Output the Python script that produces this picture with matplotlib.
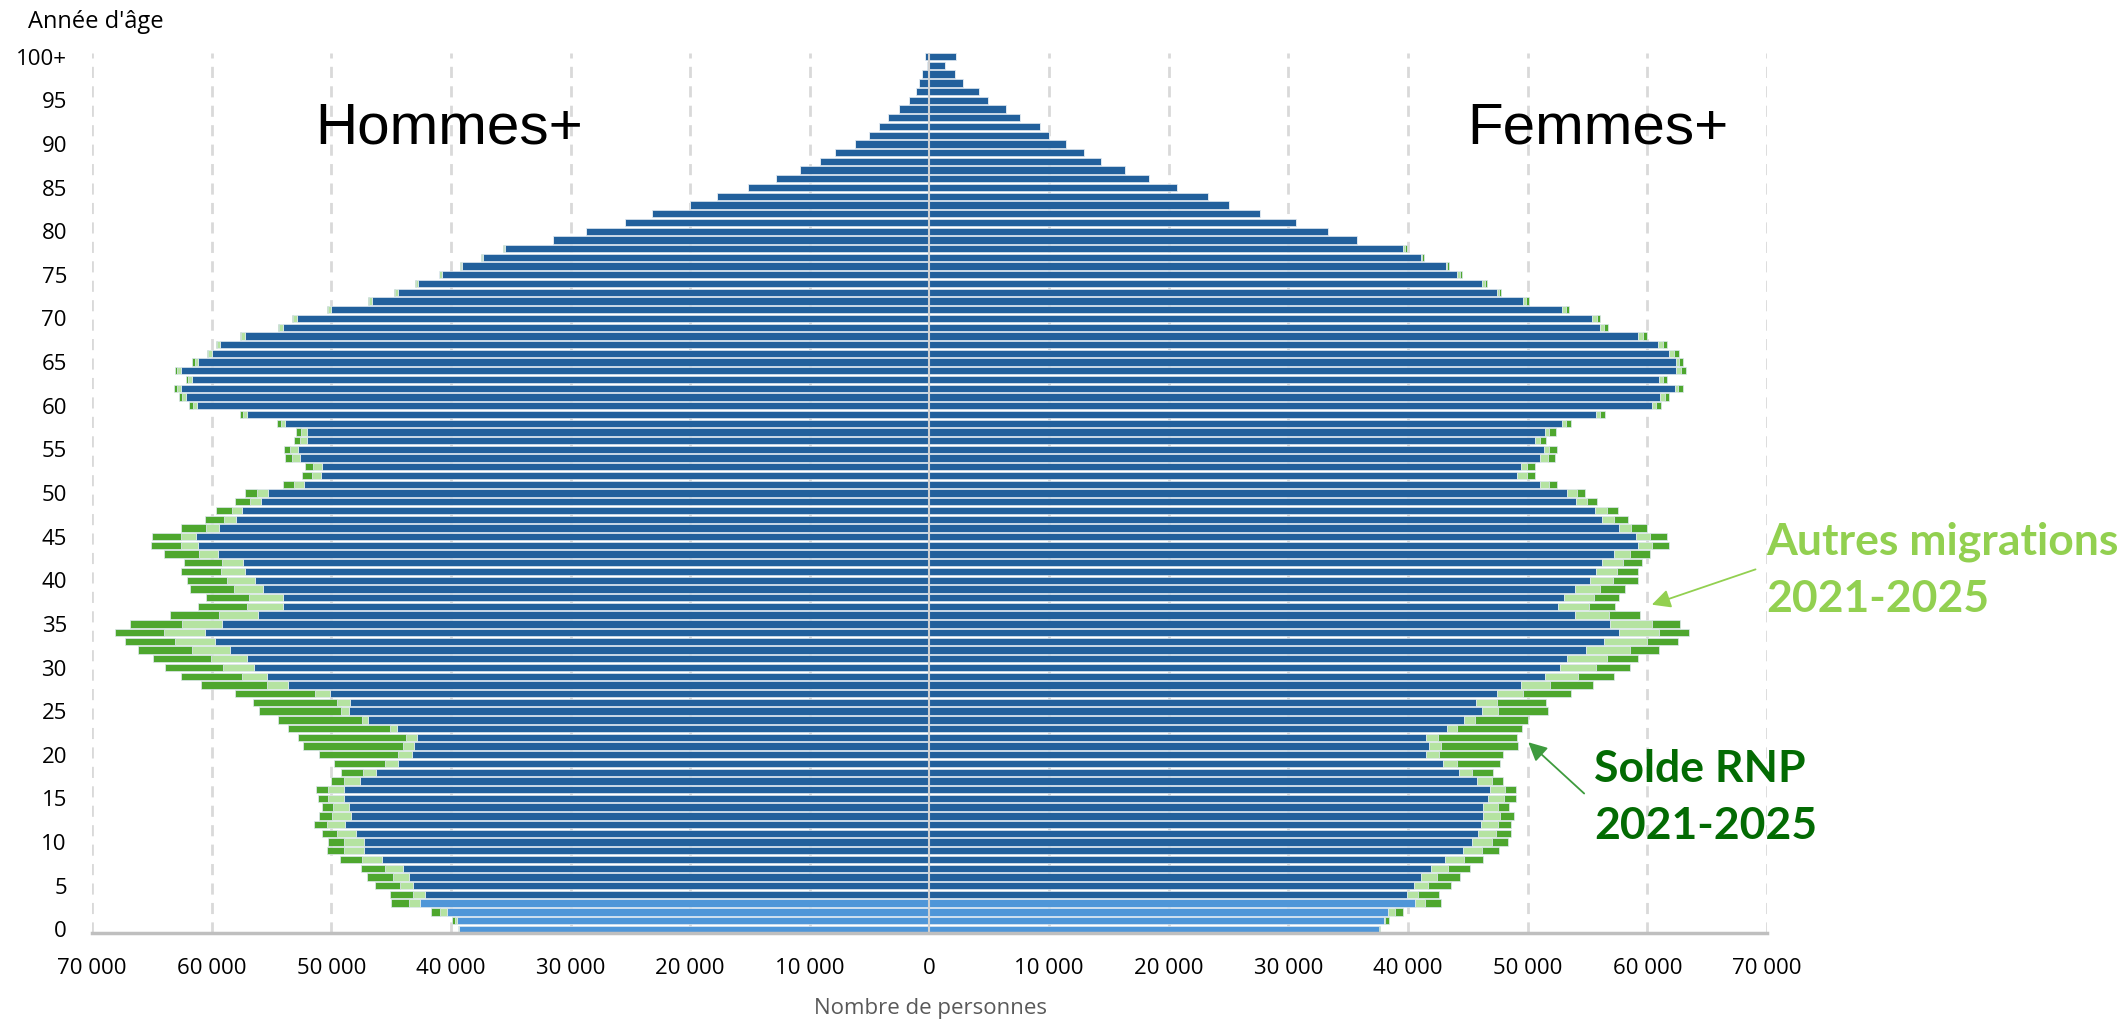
# libraries
import numpy as np
import matplotlib.pyplot as plt

# age 0 .. 100+ (last one is 100+)
ages = np.arange(101)

# hommes : population de base (bleu)
hommes_base = [39335, 39518, 40338, 42572, 42162, 43164, 43483, 44030, 45762, 47266,
               47266, 47905, 48862, 48315, 48543, 48907, 48953, 47631, 46218, 44395,
               43255, 43073, 42800, 44486, 46902, 48543, 48406, 50092, 53602, 55334,
               56474, 57066, 58479, 59710, 60576, 59163, 56155, 54058, 54012, 55699,
               56383, 57203, 57340, 59436, 61123, 61305, 59345, 57978, 57431, 55881,
               55289, 52235, 50822, 50776, 52599, 52782, 52052, 52052, 53830, 57021,
               61214, 62125, 62581, 61624, 62581, 61123, 59983, 59254, 57248, 54058,
               52873, 50047, 46583, 44441, 42754, 40749, 39108, 37284, 35461, 31450,
               28715, 25479, 23155, 20010, 17776, 15178, 12808, 10802, 9162, 7885,
               6244, 5014, 4239, 3464, 2507, 1732, 1140, 866, 638, 228, 365]
# hommes : autres migrations 2021-2025 (vert clair)
hommes_autres = [46, 137, 593, 957, 1003, 1048, 1367, 1504, 1686, 1641,
                 1641, 1641, 1459, 1595, 1276, 1322, 1322, 1276, 1140, 1094,
                 1140, 912, 912, 593, 501, 638, 1140, 1276, 1778, 2142,
                 2552, 3008, 3191, 3373, 3373, 3327, 3191, 3008, 2826, 2416,
                 2325, 2006, 1778, 1641, 1413, 1276, 1140, 957, 866, 912,
                 912, 866, 775, 775, 684, 638, 593, 501, 365, 319,
                 365, 319, 273, 319, 273, 273, 319, 273, 273, 319,
                 319, 228, 273, 228, 182, 228, 46, 137, 137, 0,
                 0, 0, 0, 0, 0, 0, 0, 0, 0, 0,
                 0, 0, 0, 0, 0, 0, 0, 0, 0, 0, 0]
# hommes : solde RNP 2021-2025 (vert fonce)
hommes_rnp = [46, 273, 729, 1504, 1914, 2097, 2142, 1960, 1823, 1459,
              1367, 1231, 1140, 1140, 957, 912, 957, 1140, 1823, 4285,
              6655, 8341, 9070, 8523, 7065, 6883, 7019, 6700, 5470, 5059,
              4877, 4831, 4512, 4193, 4148, 4330, 4102, 4057, 3646, 3692,
              3373, 3327, 3145, 2872, 2552, 2416, 2097, 1641, 1367, 1231,
              1003, 912, 820, 638, 593, 501, 456, 410, 319, 319,
              319, 273, 273, 182, 228, 228, 91, 91, 91, 91,
              91, 91, 91, 46, 46, 46, 91, 46, 46, 0,
              0, 0, 0, 0, 0, 0, 0, 0, 0, 0,
              0, 0, 0, 0, 0, 0, 0, 0, 0, 0, 0]

# femmes
femmes_base = [37554, 37966, 38332, 40575, 39889, 40483, 41078, 41902, 43092, 44557,
               45335, 45884, 46068, 46296, 46296, 46708, 46846, 45793, 44237, 42955,
               41490, 41720, 41536, 43230, 44649, 46159, 45701, 47395, 49409, 51468,
               52658, 53299, 54901, 56412, 57602, 56915, 53940, 52567, 53070, 53940,
               55222, 55679, 56229, 57236, 59249, 59021, 57602, 56229, 55633, 54031,
               53299, 51057, 49134, 49409, 51057, 51331, 50645, 51423, 52841, 55679,
               60394, 61080, 62270, 60988, 62407, 62362, 61812, 60897, 59249, 56000,
               55404, 52841, 49638, 47395, 46205, 44054, 43139, 41078, 39614, 35723,
               33343, 30597, 27622, 25013, 23274, 20711, 18331, 16363, 14349, 12884,
               11374, 9955, 9223, 7529, 6431, 4920, 4142, 2815, 2128, 1259, 2220]
femmes_autres = [46, 137, 549, 870, 915, 1190, 1327, 1419, 1602, 1648,
                 1648, 1465, 1465, 1419, 1236, 1327, 1236, 1190, 1098, 1098,
                 1098, 1007, 961, 824, 961, 1373, 1693, 2243, 2472, 2746,
                 3021, 3341, 3616, 3570, 3341, 3433, 2838, 2563, 2472, 2105,
                 1922, 1785, 1693, 1327, 1098, 1190, 1053, 1007, 961, 915,
                 824, 732, 824, 549, 595, 458, 412, 366, 320, 320,
                 320, 366, 320, 320, 366, 275, 412, 412, 412, 366,
                 366, 320, 229, 183, 229, 275, 137, 120, 140, 0,
                 0, 0, 0, 0, 0, 0, 0, 0, 0, 0,
                 0, 0, 0, 0, 0, 0, 0, 0, 0, 0, 0]
femmes_rnp = [46, 275, 687, 1282, 1785, 1877, 1968, 1877, 1602, 1419,
              1327, 1236, 1098, 1098, 870, 961, 961, 915, 1739, 3616,
              5355, 6454, 6637, 5447, 4394, 4165, 4119, 3982, 3570, 2975,
              2838, 2563, 2426, 2563, 2517, 2380, 2563, 2151, 2105, 2060,
              2060, 1739, 1648, 1693, 1465, 1419, 1327, 1144, 961, 870,
              687, 641, 687, 687, 595, 687, 503, 549, 458, 458,
              412, 366, 366, 320, 412, 366, 412, 320, 320, 320,
              275, 275, 229, 183, 183, 137, 137, 110, 135, 0,
              0, 0, 0, 0, 0, 0, 0, 0, 0, 0,
              0, 0, 0, 0, 0, 0, 0, 0, 0, 0, 0]

hb = np.array(hommes_base)
ha = np.array(hommes_autres)
hr = np.array(hommes_rnp)
fb = np.array(femmes_base)
fa = np.array(femmes_autres)
fr = np.array(femmes_rnp)

# colours
dark_blue = '#22609c'
light_blue = '#4f96d8'
light_green = '#b5e3a1'
dark_green = '#4ea72e'
blue_cols = [light_blue if a <= 3 else dark_blue for a in ages]

plt.rcParams['font.family'] = ['Open Sans', 'DejaVu Sans']

fig = plt.figure(figsize=(21.18, 10.21), dpi=100)
ax = fig.add_axes([0.0434, 0.0862, 0.7909, 0.8619])

h = 0.84
edge = dict(edgecolor='#dfe8f0', linewidth=0.5)

# hommes (left, negative)
ax.barh(ages, -hb, height=h, color=blue_cols, zorder=2, **edge)
ax.barh(ages, -ha, left=-hb, height=h, color=light_green, zorder=2, **edge)
ax.barh(ages, -hr, left=-(hb + ha), height=h, color=dark_green, zorder=2, **edge)

# femmes (right)
ax.barh(ages, fb, height=h, color=blue_cols, zorder=2, **edge)
ax.barh(ages, fa, left=fb, height=h, color=light_green, zorder=2, **edge)
ax.barh(ages, fr, left=fb + fa, height=h, color=dark_green, zorder=2, **edge)

# grid
for v in range(-70000, 70001, 10000):
    if v == 0:
        continue
    ax.axvline(v, color='#d9d9d9', lw=2, linestyle=(0, (4, 3)), zorder=1)
ax.axvline(0, color='#d0d0d0', lw=1.5, zorder=3)

ax.set_xlim(-70000, 70000)
ax.set_ylim(-0.42, 100.42)

xt = list(range(-70000, 70001, 10000))
ax.set_xticks(xt)
ax.set_xticklabels(['{:,}'.format(abs(v)).replace(',', ' ') for v in xt], fontsize=16)
yt = list(range(0, 101, 5))
ax.set_yticks(yt)
ax.set_yticklabels([str(a) if a < 100 else '100+' for a in yt], fontsize=16)
ax.tick_params(axis='both', length=0)
ax.tick_params(axis='x', pad=18)
ax.tick_params(axis='y', pad=18)

for s in ['top', 'right', 'left']:
    ax.spines[s].set_visible(False)
ax.spines['bottom'].set_color('#bfbfbf')
ax.spines['bottom'].set_linewidth(2.5)
ax.spines['bottom'].set_zorder(4)

# titles on each side
ax.text(-51300, 90.1, 'Hommes+', fontsize=42, family=['Liberation Sans', 'DejaVu Sans'],
        ha='left', va='baseline')
ax.text(44950, 90.1, 'Femmes+', fontsize=42, family=['Liberation Sans', 'DejaVu Sans'],
        ha='left', va='baseline')

# annotations
c_autres = '#92d050'
c_rnp = '#036b03'
lato = ['Lato', 'DejaVu Sans']
ax.text(69900, 42.96, 'Autres migrations', color=c_autres, fontsize=32, fontweight='bold',
        family=lato, ha='left', va='baseline', clip_on=False)
ax.text(69900, 36.4, '2021-2025', color=c_autres, fontsize=32, fontweight='bold',
        family=lato, ha='left', va='baseline', clip_on=False)
ax.annotate('', xy=(60150, 37.1), xytext=(69257, 41.35),
            arrowprops=dict(arrowstyle='-|>', color=c_autres, lw=1.3, mutation_scale=28),
            annotation_clip=False)

ax.text(55556, 16.84, 'Solde RNP', color=c_rnp, fontsize=32, fontweight='bold',
        family=lato, ha='left', va='baseline', clip_on=False)
ax.text(55556, 10.3, '2021-2025', color=c_rnp, fontsize=32, fontweight='bold',
        family=lato, ha='left', va='baseline', clip_on=False)
ax.annotate('', xy=(49875, 21.65), xytext=(54887, 15.35),
            arrowprops=dict(arrowstyle='-|>', color='#3e9b3e', lw=1.3, mutation_scale=28),
            annotation_clip=False)

# axis titles
fig.text(28 / 2118, 1 - 28 / 1021, "Année d'âge", fontsize=17, ha='left', va='baseline')
fig.text(930 / 2118, 1 - 1008 / 1021, 'Nombre de personnes', fontsize=16,
         color='#595959', ha='center', va='center')

fig.savefig('out.png', dpi=100)
